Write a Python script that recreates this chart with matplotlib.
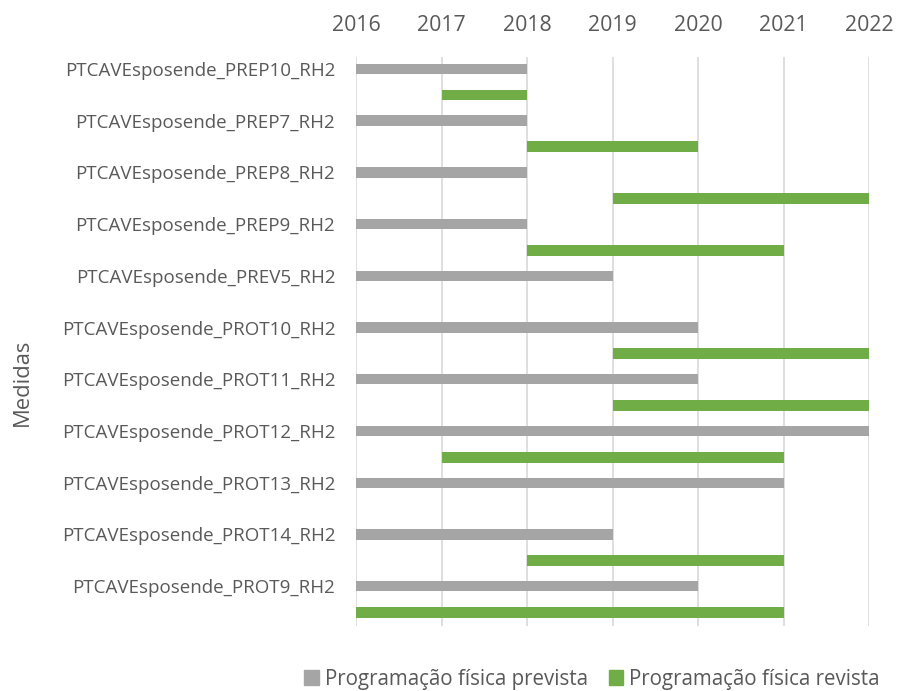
import numpy as np
import matplotlib.pyplot as plt
from matplotlib.patches import Patch

medidas = [
    "PTCAVEsposende_PREP10_RH2",
    "PTCAVEsposende_PREP7_RH2",
    "PTCAVEsposende_PREP8_RH2",
    "PTCAVEsposende_PREP9_RH2",
    "PTCAVEsposende_PREV5_RH2",
    "PTCAVEsposende_PROT10_RH2",
    "PTCAVEsposende_PROT11_RH2",
    "PTCAVEsposende_PROT12_RH2",
    "PTCAVEsposende_PROT13_RH2",
    "PTCAVEsposende_PROT14_RH2",
    "PTCAVEsposende_PROT9_RH2",
]
prevista_inicio = [2016, 2016, 2016, 2016, 2016, 2016, 2016, 2016, 2016, 2016, 2016]
prevista_fim = [2018, 2018, 2018, 2018, 2019, 2020, 2020, 2022, 2021, 2019, 2020]
revista_inicio = [2017, 2018, 2019, 2018, np.nan, 2019, 2019, 2017, np.nan, 2018, 2016]
revista_fim = [2018, 2020, 2022, 2021, np.nan, 2022, 2022, 2021, np.nan, 2021, 2021]
anos = [2016, 2017, 2018, 2019, 2020, 2021, 2022]

cor_prev = "#a5a5a5"
cor_rev = "#70ad47"
cor_txt = "#595959"

plt.rcParams["font.family"] = ["Open Sans", "DejaVu Sans"]

fig = plt.figure(figsize=(8.97, 6.91), dpi=100)
ax = fig.add_axes([356 / 897, 1 - 626 / 691, (869 - 356) / 897, (626 - 57) / 691])

y = np.arange(len(medidas))
p_ini = np.array(prevista_inicio, dtype=float)
p_fim = np.array(prevista_fim, dtype=float)
r_ini = np.array(revista_inicio, dtype=float)
r_fim = np.array(revista_fim, dtype=float)

ax.barh(y + 0.23, p_fim - p_ini, left=p_ini, height=0.2, color=cor_prev, zorder=3)
ok = ~np.isnan(r_ini)
ax.barh(y[ok] + 0.735, (r_fim - r_ini)[ok], left=r_ini[ok], height=0.21, color=cor_rev, zorder=3)

ax.set_xlim(2016, 2022)
ax.set_ylim(len(medidas), 0)
ax.set_xticks(anos)
ax.set_xticklabels([str(a) for a in anos], fontsize=15.3, color=cor_txt)
ax.xaxis.tick_top()
ax.set_yticks(y + 0.23)
ax.set_yticklabels(medidas, fontsize=13.5, color=cor_txt)
ax.tick_params(axis="both", length=0)
ax.tick_params(axis="x", pad=15)
ax.tick_params(axis="y", pad=15)
ax.grid(axis="x", color="#d9d9d9", linewidth=1.2, zorder=0)
for s in ax.spines.values():
    s.set_visible(False)

fig.text(22 / 897, 1 - 382 / 691, "Medidas", rotation=90, ha="center", va="center",
         fontsize=15.8, color=cor_txt)

handles = [Patch(color=cor_prev), Patch(color=cor_rev)]
fig.legend(handles, ["Programação física prevista", "Programação física revista"],
           loc="center", bbox_to_anchor=(592 / 897, 1 - 679 / 691), ncol=2, frameon=False,
           fontsize=14.8, handlelength=0.7, handleheight=0.7, handletextpad=0.3,
           columnspacing=1.0, labelcolor=cor_txt)

fig.savefig("out.png", dpi=100)
